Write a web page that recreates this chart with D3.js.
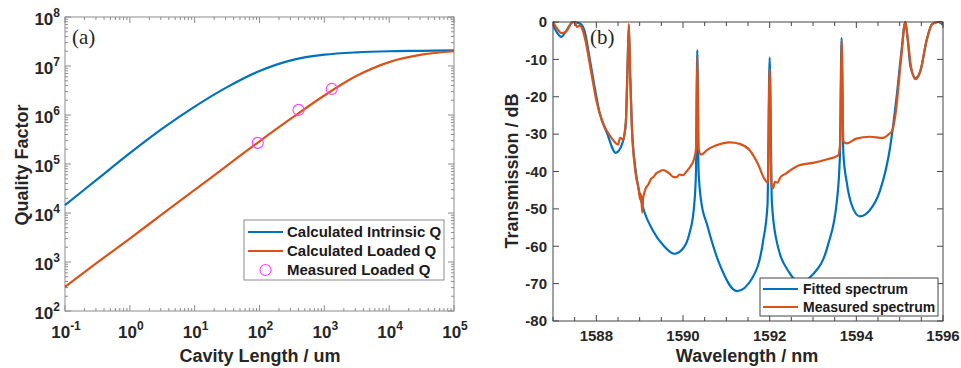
<!DOCTYPE html>
<html>
<head>
<meta charset="utf-8">
<script src="https://cdn.jsdelivr.net/npm/d3@7"></script>
<style>
  body { margin: 0; background: #fff; }
  svg { display: block; font-family: 'Liberation Sans', Arial, sans-serif; }
</style>
</head>
<body>
<svg id="chart" width="961" height="368"></svg>
<script>
// ---- panel (a) data: cavity length (um) vs Q ----
const cavLen = [0.1, 0.316, 1, 3.16, 10, 31.6, 100, 316, 1000, 3162, 10000, 31623, 100000]
const intrinsicQ = [1.45e4, 4.9e4, 1.66e5, 5.25e5, 1.48e6, 3.7e6, 7.9e6, 1.32e7, 1.7e7, 1.9e7, 2.0e7, 2.04e7, 2.09e7]
const loadedQ = [310, 980, 3.0e3, 9.5e3, 2.95e4, 9.3e4, 2.9e5, 8.7e5, 2.5e6, 6.3e6, 1.2e7, 1.7e7, 2.0e7]
const measLen = [94, 400, 1300]
const measQ = [2.7e5, 1.27e6, 3.4e6]
const qLegend = ['Calculated Intrinsic Q', 'Calculated Loaded Q', 'Measured Loaded Q']

// ---- panel (b) data: wavelength (nm) vs transmission (dB) ----
const fitWl = [1587.0, 1587.1, 1587.19, 1587.3, 1587.46, 1587.6, 1587.68, 1587.73, 1587.85, 1587.97,
  1588.08, 1588.24, 1588.45, 1588.6, 1588.68, 1588.72, 1588.75, 1588.78, 1588.82, 1588.9,
  1589.0, 1589.1, 1589.3, 1589.55, 1589.8, 1590.0, 1590.15, 1590.25, 1590.3, 1590.33,
  1590.36, 1590.42, 1590.55, 1590.85, 1591.25, 1591.6, 1591.85, 1591.95, 1592.0, 1592.05,
  1592.15, 1592.45, 1592.7, 1593.0, 1593.35, 1593.55, 1593.62, 1593.66, 1593.7, 1593.78,
  1593.88, 1594.08, 1594.3, 1594.55, 1594.78, 1594.92, 1595.04, 1595.13, 1595.18, 1595.25,
  1595.37, 1595.48, 1595.62, 1595.75, 1595.9, 1596.0]
const fitDb = [-0.8, -3, -4, -2.5, 0, -0.3, -1, -2.5, -10, -18,
  -24.5, -29.5, -35, -32.5, -27, -12, -1, -14, -28, -39,
  -46, -50.5, -55.7, -59.8, -62, -60.6, -56.5, -50, -40, -7.5,
  -40, -48, -54, -65, -72, -68.5, -58.5, -49, -9.5, -48,
  -58, -67, -69.5, -67.5, -59.5, -48, -36, -4.3, -35, -43,
  -48.5, -52, -50.5, -45, -33.5, -21, -8, 0, -4, -12,
  -15, -13, -5, -0.5, 0, -0.8]
const measWl = [1587.0, 1587.08, 1587.2, 1587.3, 1587.42, 1587.5, 1587.55, 1587.62, 1587.68, 1587.75,
  1587.89, 1588.0, 1588.15, 1588.35, 1588.5, 1588.55, 1588.62, 1588.68, 1588.72, 1588.75, 1588.78,
  1588.82, 1588.9, 1588.98, 1589.01, 1589.03, 1589.06, 1589.08, 1589.1, 1589.14, 1589.2, 1589.26,
  1589.32, 1589.38, 1589.46, 1589.54, 1589.62, 1589.7, 1589.78,
  1589.85, 1589.92, 1590.0, 1590.08, 1590.15, 1590.26, 1590.3, 1590.33, 1590.36, 1590.42, 1590.55, 1590.77,
  1591.08, 1591.31, 1591.54, 1591.73, 1591.88, 1591.96, 1592.0, 1592.04, 1592.08, 1592.12, 1592.18,
  1592.25, 1592.38, 1592.5, 1592.69, 1593.0, 1593.31, 1593.58, 1593.63, 1593.66, 1593.7, 1593.78, 1594.0,
  1594.31, 1594.62, 1594.75, 1594.83, 1594.9, 1595.04, 1595.13, 1595.18, 1595.27, 1595.37, 1595.48,
  1595.62, 1595.75, 1595.9, 1596.0]
const measDb = [0, -1.5, -3, -2.6, -0.4, 0, -1.3, -1, -2, -5,
  -14, -21, -27, -31, -32.8, -31, -31.5, -27, -12, -0.5, -14,
  -28, -40, -45, -47.5, -46, -51, -47, -46, -44.5, -43.5, -42,
  -41.5, -40.5, -40, -39.6, -40, -40.7, -41.5,
  -41.5, -40.8, -41, -40, -39, -36.5, -34, -9.3, -34, -35.5, -34.3, -33,
  -32.2, -32.6, -34.3, -38, -42, -43, -12.5, -43.5, -44.5, -42.8, -43,
  -41.5, -40.5, -39.5, -38.3, -37.7, -36.8, -35.7, -32, -5, -32, -32.5, -31.2,
  -30.7, -31, -30, -29, -25, -9, 0, -4, -12.5, -15.3, -13,
  -5, -0.6, 0, -0.3]
const specLegend = ['Fitted spectrum', 'Measured spectrum']
const wlTicks = [1588, 1590, 1592, 1594, 1596]
const dbTicks = [0, -10, -20, -30, -40, -50, -60, -70, -80]

const BLUE = '#0072BD'
const ORANGE = '#D95319'
const svg = d3.select('#chart')

// ================= panel (a) =================
const A = { left: 65, right: 454, top: 17, bottom: 311 }
const xA = d3.scaleLog().domain([0.1, 1e5]).range([A.left, A.right])
const yA = d3.scaleLog().domain([1e2, 1e8]).range([A.bottom, A.top])
const gA = svg.append('g')
const frameA = '#8c8c8c'

gA.append('rect')
  .attr('x', A.left).attr('y', A.top)
  .attr('width', A.right - A.left).attr('height', A.bottom - A.top)
  .attr('fill', 'none').attr('stroke', frameA).attr('stroke-width', 1)

function isDecade(v) { return Math.abs(Math.log10(v) - Math.round(Math.log10(v))) < 1e-6 }

// ticks on all four sides, pointing in
xA.ticks().forEach(v => {
  const x = xA(v), len = isDecade(v) ? 6 : 3
  gA.append('line').attr('x1', x).attr('x2', x).attr('y1', A.bottom).attr('y2', A.bottom - len).attr('stroke', frameA)
  gA.append('line').attr('x1', x).attr('x2', x).attr('y1', A.top).attr('y2', A.top + len).attr('stroke', frameA)
})
yA.ticks().forEach(v => {
  const y = yA(v), len = isDecade(v) ? 6 : 3
  gA.append('line').attr('x1', A.left).attr('x2', A.left + len).attr('y1', y).attr('y2', y).attr('stroke', frameA)
  gA.append('line').attr('x1', A.right).attr('x2', A.right - len).attr('y1', y).attr('y2', y).attr('stroke', frameA)
})

function powLabel(g, x, y, exp, anchor) {
  const t = g.append('text')
    .attr('x', x).attr('y', y)
    .attr('text-anchor', anchor)
    .attr('font-weight', 'bold').attr('font-size', 17).attr('fill', '#262626')
  t.append('tspan').text('10')
  t.append('tspan').attr('dy', -8).attr('font-size', 12).text(exp)
}
d3.range(-1, 6).forEach(e => powLabel(gA, xA(Math.pow(10, e)) + 1, 338, String(e), 'middle'))
d3.range(2, 9).forEach(e => powLabel(gA, 60, yA(Math.pow(10, e)) + 8, String(e), 'end'))

const lineA = d3.line()
  .x((d, i) => xA(cavLen[i]))
  .y(d => yA(d))
  .curve(d3.curveCatmullRom.alpha(0.5))

gA.append('path').datum(intrinsicQ)
  .attr('d', lineA).attr('fill', 'none').attr('stroke', BLUE).attr('stroke-width', 2.2)
gA.append('path').datum(loadedQ)
  .attr('d', lineA).attr('fill', 'none').attr('stroke', ORANGE).attr('stroke-width', 2.2)

gA.selectAll('circle.meas').data(measQ).join('circle')
  .attr('class', 'meas')
  .attr('cx', (d, i) => xA(measLen[i]))
  .attr('cy', d => yA(d))
  .attr('r', 5.5)
  .attr('fill', 'none').attr('stroke', '#ff44ff').attr('stroke-width', 1.2)

gA.append('text')
  .attr('x', 72).attr('y', 44)
  .attr('font-family', "'Liberation Serif', 'Times New Roman', serif")
  .attr('font-size', 21).attr('fill', '#262626')
  .text('(a)')

gA.append('text')
  .attr('transform', 'translate(28,' + 165 + ') rotate(-90)')
  .attr('text-anchor', 'middle')
  .attr('font-weight', 'bold').attr('font-size', 18).attr('fill', '#262626')
  .text('Quality Factor')

gA.append('text')
  .attr('x', 260).attr('y', 362)
  .attr('text-anchor', 'middle')
  .attr('font-weight', 'bold').attr('font-size', 18).attr('fill', '#262626')
  .text('Cavity Length / um')

// legend (a)
const legA = gA.append('g')
legA.append('rect')
  .attr('x', 244).attr('y', 220).attr('width', 200).attr('height', 60)
  .attr('fill', '#fff').attr('stroke', frameA)
qLegend.forEach((name, i) => {
  const y = 232 + i * 19
  if (i < 2) {
    legA.append('line').attr('x1', 248).attr('x2', 283).attr('y1', y).attr('y2', y)
      .attr('stroke', i === 0 ? BLUE : ORANGE).attr('stroke-width', 2.2)
  } else {
    legA.append('circle').attr('cx', 265.5).attr('cy', y).attr('r', 5.5)
      .attr('fill', 'none').attr('stroke', '#ff44ff').attr('stroke-width', 1.2)
  }
  legA.append('text').attr('x', 287).attr('y', y + 5)
    .attr('font-weight', 'bold').attr('font-size', 15).attr('fill', '#1a1a1a')
    .text(name)
})

// ================= panel (b) =================
const B = { left: 553, right: 943, top: 22, bottom: 321 }
const xB = d3.scaleLinear().domain([1587, 1596]).range([B.left, B.right])
const yB = d3.scaleLinear().domain([-80, 0]).range([B.bottom, B.top])
const gB = svg.append('g')
const frameB = '#444'

// curves first, frame on top
const clip = gB.append('clipPath').attr('id', 'clipB')
clip.append('rect').attr('x', B.left).attr('y', B.top - 1)
  .attr('width', B.right - B.left).attr('height', B.bottom - B.top + 1)

const lineB = d3.line()
  .x(d => xB(d[0]))
  .y(d => yB(d[1]))
  .curve(d3.curveMonotoneX)

gB.append('path').datum(fitWl.map((w, i) => [w, fitDb[i]]))
  .attr('clip-path', 'url(#clipB)')
  .attr('d', lineB).attr('fill', 'none').attr('stroke', BLUE).attr('stroke-width', 2.2)
gB.append('path').datum(measWl.map((w, i) => [w, measDb[i]]))
  .attr('clip-path', 'url(#clipB)')
  .attr('d', lineB).attr('fill', 'none').attr('stroke', ORANGE).attr('stroke-width', 2.2)

gB.append('rect')
  .attr('x', B.left).attr('y', B.top)
  .attr('width', B.right - B.left).attr('height', B.bottom - B.top)
  .attr('fill', 'none').attr('stroke', frameB).attr('stroke-width', 1)

d3.range(1587, 1596.01, 0.5).forEach(v => {
  const x = xB(v), len = wlTicks.includes(v) ? 6 : 4
  gB.append('line').attr('x1', x).attr('x2', x).attr('y1', B.bottom).attr('y2', B.bottom - len).attr('stroke', frameB)
  gB.append('line').attr('x1', x).attr('x2', x).attr('y1', B.top).attr('y2', B.top + len).attr('stroke', frameB)
})
dbTicks.forEach(v => {
  const y = yB(v)
  gB.append('line').attr('x1', B.left).attr('x2', B.left + 6).attr('y1', y).attr('y2', y).attr('stroke', frameB)
  gB.append('line').attr('x1', B.right).attr('x2', B.right - 6).attr('y1', y).attr('y2', y).attr('stroke', frameB)
  gB.append('text').attr('x', B.left - 6).attr('y', y).attr('dy', '0.35em')
    .attr('text-anchor', 'end')
    .attr('font-weight', 'bold').attr('font-size', 15).attr('fill', '#262626')
    .text(v)
})
wlTicks.forEach(v => {
  gB.append('text').attr('x', xB(v)).attr('y', 341)
    .attr('text-anchor', 'middle')
    .attr('font-weight', 'bold').attr('font-size', 15).attr('fill', '#262626')
    .text(v)
})

gB.append('text')
  .attr('x', 590).attr('y', 44)
  .attr('font-family', "'Liberation Serif', 'Times New Roman', serif")
  .attr('font-size', 21).attr('fill', '#262626')
  .text('(b)')

gB.append('text')
  .attr('transform', 'translate(518,' + 171 + ') rotate(-90)')
  .attr('text-anchor', 'middle')
  .attr('font-weight', 'bold').attr('font-size', 18).attr('fill', '#262626')
  .text('Transmission / dB')

gB.append('text')
  .attr('x', 747).attr('y', 362)
  .attr('text-anchor', 'middle')
  .attr('font-weight', 'bold').attr('font-size', 18).attr('fill', '#262626')
  .text('Wavelength / nm')

// legend (b)
const legB = gB.append('g')
legB.append('rect')
  .attr('x', 760).attr('y', 278).attr('width', 178).attr('height', 38)
  .attr('fill', '#fff').attr('stroke', frameB)
specLegend.forEach((name, i) => {
  const y = 289 + i * 18
  legB.append('line').attr('x1', 763).attr('x2', 798).attr('y1', y).attr('y2', y)
    .attr('stroke', i === 0 ? BLUE : ORANGE).attr('stroke-width', 2.2)
  legB.append('text').attr('x', 803).attr('y', y + 5)
    .attr('font-weight', 'bold').attr('font-size', 14).attr('fill', '#1a1a1a')
    .text(name)
})
</script>
</body>
</html>
